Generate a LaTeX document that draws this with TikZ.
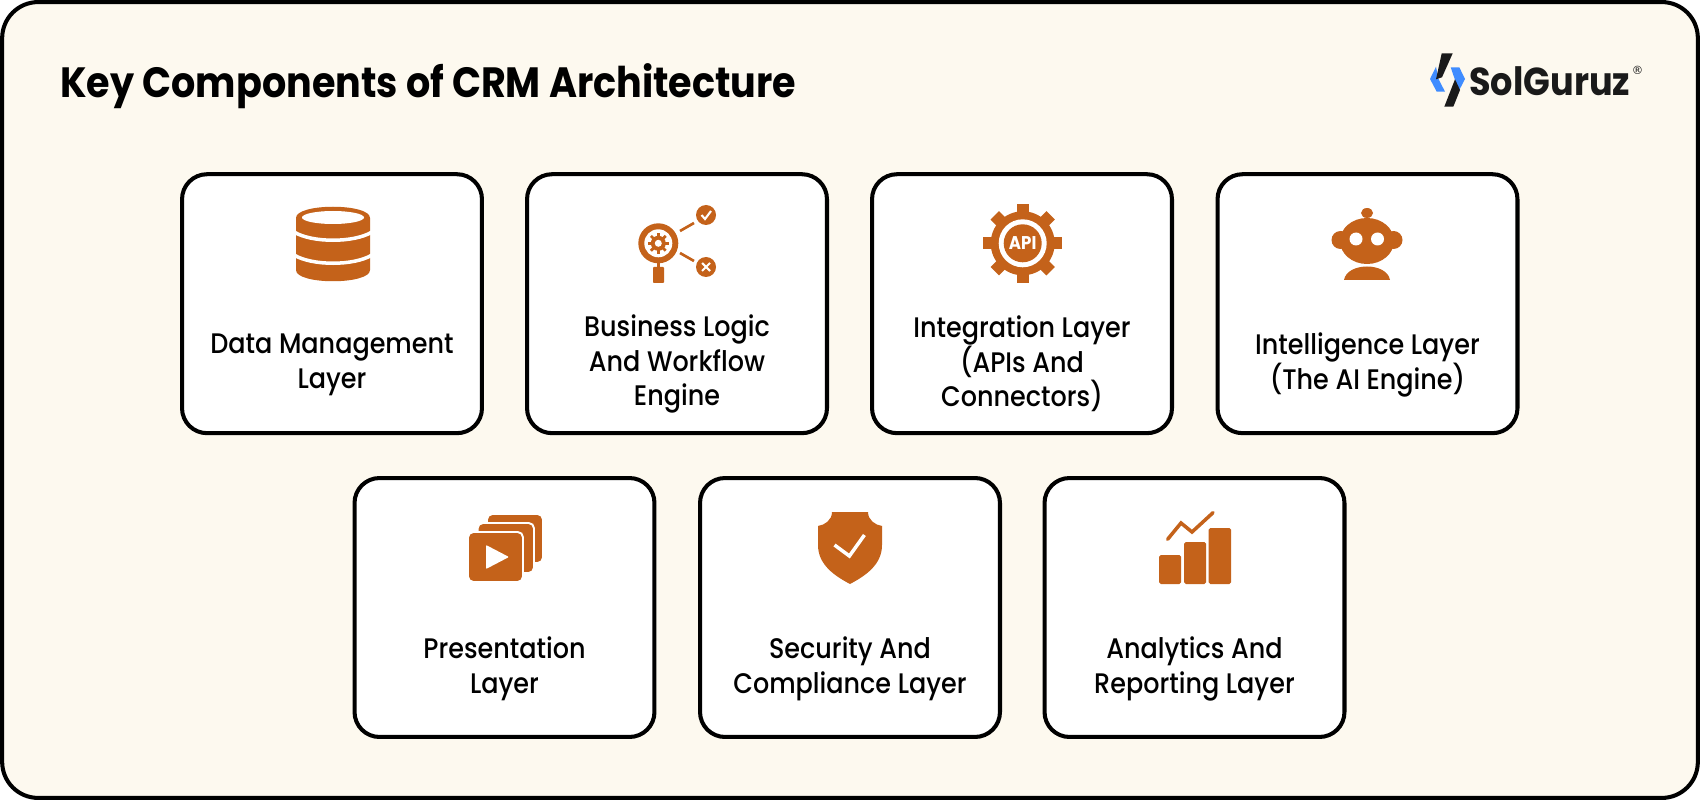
\documentclass[tikz,border=0pt]{standalone}
\usepackage{fontspec}
\setmainfont{Poppins}[UprightFont=* Medium, BoldFont=* Bold, FakeStretch=0.9]
\newfontfamily\markfont{DejaVu Sans}
\usetikzlibrary{positioning,calc}
\definecolor{panelcream}{RGB}{253,249,239}
\definecolor{iconorange}{RGB}{196,98,26}
\definecolor{logoblue}{RGB}{63,140,255}
\definecolor{logoblack}{RGB}{26,26,26}

\begin{document}
\begin{tikzpicture}[
    x=0.02cm, y=-0.02cm,
    panel/.style={rectangle, draw=black, line width=2.3pt, rounded corners=0.72cm, fill=panelcream, minimum width=33.92cm, minimum height=15.92cm},
    card/.style={rectangle, draw=black, line width=2.3pt, rounded corners=0.5cm, fill=white, minimum width=6cm, minimum height=5.18cm},
    cardlabel/.style={align=center, text=black, font=\fontsize{16.1}{19.7}\selectfont},
    icon/.style={fill=iconorange, draw=none},
    gap/.style={draw=white, line cap=butt}
]
    \useasboundingbox (0,0) rectangle (1700,800);
    \node[panel] (panel) at (850,400) {};

    % Heading
    \node[anchor=west, inner sep=0pt, font=\fontsize{24.1}{27}\selectfont\bfseries] (title) at (60,86) {Key Components of CRM Architecture};

    % Logo
    \fill[logoblue] (1436,66.7) -- (1430,79) -- (1436.7,91.7) -- (1445,91.7) -- (1438.5,79) -- cycle;
    \fill[logoblue] (1450.7,67.3) -- (1459.3,67.3) -- (1465,79) -- (1459.3,90) -- (1455,80) -- cycle;
    \fill[logoblack] (1441.7,53.3) -- (1452.7,53.3) -- (1442,77.3) -- (1436,79.3) -- cycle;
    \fill[logoblack] (1455,79.3) -- (1460,90) -- (1453.3,106.7) -- (1444.3,106.7) -- cycle;
    \node[anchor=west, inner sep=0pt, text=logoblack, font=\fontsize{22.2}{26}\selectfont\bfseries] (logotext) at (1469,81.5) {SolGuruz};
    \node[inner sep=0pt, text=logoblack, font=\markfont\fontsize{6.5}{8}\selectfont] (logomark) at (1637.5,70) {®};

    % Top row
    \node[card] (data) at (332,303.7) {};
    \node[card] (logic) at (677,303.7) {};
    \node[card] (integration) at (1022,303.7) {};
    \node[card] (intelligence) at (1367.5,303.7) {};

    % Bottom row
    \node[card] (presentation) at (504.5,607.5) {};
    \node[card] (security) at (850,607.5) {};
    \node[card] (analytics) at (1194.5,607.5) {};

    % Labels
    \node[cardlabel] (datalabel) at (332,365) {Data Management\\Layer};
    \node[cardlabel] (logiclabel) at (677,364) {Business Logic\\And Workflow\\Engine};
    \node[cardlabel] (integrationlabel) at (1022,364) {Integration Layer\\(APIs And\\Connectors)};
    \node[cardlabel] (intelligencelabel) at (1367.5,365) {Intelligence Layer\\(The AI Engine)};
    \node[cardlabel] (presentationlabel) at (504.5,669) {Presentation\\Layer};
    \node[cardlabel] (securitylabel) at (850,669) {Security And\\Compliance Layer};
    \node[cardlabel] (analyticslabel) at (1194.5,669) {Analytics And\\Reporting Layer};

    % Database icon
    \fill[icon] (296,218) .. controls (296,203) and (370,203) .. (370,218) -- (370,270) .. controls (370,285) and (296,285) .. (296,270) -- cycle;
    \draw[gap, line width=2pt] (294,232) .. controls (312,243) and (354,243) .. (372,232);
    \draw[gap, line width=2pt] (294,255) .. controls (312,266) and (354,266) .. (372,255);
    \fill[white] (333,217.5) ellipse (31 and 6.5);

    % Magnifier icon
    \fill[icon] (658.3,243.3) circle (20);
    \fill[white] (658.3,243.3) circle (14);
    \foreach \ang in {0,45,...,315}
        \draw[iconorange, line width=1.6pt] (658.3,243.3) -- ++(\ang:10.5);
    \fill[icon] (658.3,243.3) circle (7.5);
    \fill[white] (658.3,243.3) circle (3.5);
    \fill[icon] (656.5,263) rectangle (660,268);
    \fill[icon, rounded corners=0.5pt] (653,267) rectangle (664,283);
    \draw[iconorange, line width=1.5pt] (680,231) -- (694,223);
    \draw[iconorange, line width=1.5pt] (680,253) -- (694,261);
    \fill[icon] (706,215) circle (10);
    \fill[icon] (706,267) circle (10);
    \draw[white, line width=1.2pt] (701.5,215) -- (705,219) -- (711,211);
    \draw[white, line width=1.2pt] (702,263) -- (710,271) (702,271) -- (710,263);

    % API gear icon
    \foreach \ang in {0,45,...,315}
        \draw[iconorange, line width=6.8pt] (1022.7,243.3) -- ++(\ang:39.5);
    \fill[icon] (1022.7,243.3) circle (32);
    \fill[white] (1022.7,243.3) circle (24);
    \fill[icon] (1022.7,243.3) circle (19);
    \node[inner sep=0pt, text=white, font=\fontsize{10.5}{12}\selectfont\bfseries] (apitext) at (1022.7,243.3) {API};

    % Robot icon
    \fill[icon] (1367,213) ellipse (6 and 5);
    \fill[icon] (1340.5,240) circle (9);
    \fill[icon] (1393.5,240) circle (9);
    \fill[icon] (1367,241) ellipse (27 and 23);
    \fill[white] (1356,239) circle (6.5);
    \fill[white] (1377.5,239) circle (6.5);
    \fill[icon] (1344,280) .. controls (1347,262) and (1387,262) .. (1390,280) -- cycle;

    % Slides icon
    \draw[fill=iconorange, draw=white, line width=1.1pt, rounded corners=3pt] (487,514) rectangle (543,563);
    \draw[fill=iconorange, draw=white, line width=1.1pt, rounded corners=3pt] (477.6,523) rectangle (534,573);
    \draw[fill=iconorange, draw=white, line width=1.1pt, rounded corners=3pt] (468,532) rectangle (523,582);
    \fill[white, rounded corners=0.5pt] (486,545) -- (509,557) -- (486,569) -- cycle;

    % Shield icon
    \fill[icon] (832,512) -- (868,512) .. controls (868,520) and (875,525) .. (882,526) -- (882,545) .. controls (882,565) and (865,576) .. (850,584) .. controls (835,576) and (818,565) .. (818,545) -- (818,526) .. controls (825,525) and (832,520) .. (832,512) -- cycle;
    \draw[white, line width=2pt] (834.5,545) -- (849.4,556) -- (864.4,535);

    % Chart icon
    \fill[icon, rounded corners=1pt] (1159,555) rectangle (1181,584);
    \fill[icon, rounded corners=1pt] (1184,542) rectangle (1206,584);
    \fill[icon, rounded corners=1pt] (1208.6,528) rectangle (1231,584);
    \draw[iconorange, line width=2pt, line cap=round] (1167.6,539.3) -- (1181,523) -- (1192,532) -- (1213,512.7);
\end{tikzpicture}
\end{document}
